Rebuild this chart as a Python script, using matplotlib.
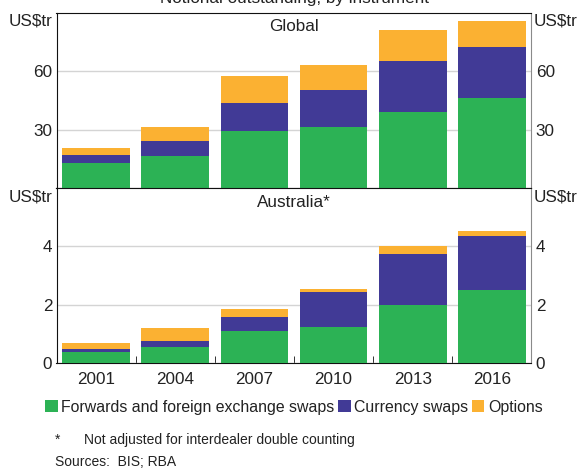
import numpy as np
import matplotlib
matplotlib.use('Agg')
import matplotlib.pyplot as plt
from matplotlib.patches import Patch

plt.rcParams['font.family'] = ['Liberation Sans', 'DejaVu Sans']
plt.rcParams['text.color'] = '#222222'

# data (US$ trillion)
years = ['2001', '2004', '2007', '2010', '2013', '2016']
series = ['Forwards and foreign exchange swaps', 'Currency swaps', 'Options']
global_fwd = [12.9, 16.5, 29.3, 31.5, 39.1, 46.3]
global_cs = [4.2, 7.7, 14.2, 18.9, 26.2, 26.0]
global_opt = [3.5, 7.3, 14.1, 12.7, 15.8, 13.6]
aus_fwd = [0.40, 0.56, 1.09, 1.25, 2.00, 2.51]
aus_cs = [0.10, 0.19, 0.48, 1.18, 1.74, 1.84]
aus_opt = [0.18, 0.46, 0.29, 0.13, 0.29, 0.19]

colors = ['#2cb255', '#413a96', '#fbb132']
W, H = 580, 469
fs = 12.3

fig = plt.figure(figsize=(W / 100, H / 100), dpi=100)
left, right = 56.5 / W, 531.5 / W
ax_top = fig.add_axes([left, 1 - 188 / H, right - left, 175 / H])
ax_bot = fig.add_axes([left, 1 - 363.3 / H, right - left, 175.3 / H])

x = np.arange(len(years))


def draw_panel(ax, fwd, cs, opt, ymax, ticks, name):
    bottom = np.zeros(len(x))
    for vals, c in zip([fwd, cs, opt], colors):
        ax.bar(x, vals, width=0.853, bottom=bottom, color=c, zorder=3)
        bottom = bottom + np.array(vals)
    ax.set_xlim(-0.5, len(x) - 0.5)
    ax.set_ylim(0, ymax)
    ax.set_yticks(ticks)
    ax.set_yticklabels([str(t) for t in ticks])
    ax.grid(axis='y', color='#d4d4d4', linewidth=1, zorder=0)
    ax.tick_params(axis='y', length=0, pad=3, labelsize=fs,
                   labelleft=True, labelright=True, colors='#222222')
    for s in ['left', 'top', 'bottom']:
        ax.spines[s].set_color('#111111')
    ax.spines['right'].set_color('#8a8a8a')
    ax.text(0.5, 1 - 14 / 175, name, transform=ax.transAxes,
            ha='center', va='center', fontsize=fs)
    ax.text(-3.5 / 475, 1 - 8.5 / 175, 'US$tr', transform=ax.transAxes,
            ha='right', va='center', fontsize=fs)
    ax.text(1 + 2.5 / 475, 1 - 8.5 / 175, 'US$tr', transform=ax.transAxes,
            ha='left', va='center', fontsize=fs)


draw_panel(ax_top, global_fwd, global_cs, global_opt, 90, [30, 60], 'Global')
draw_panel(ax_bot, aus_fwd, aus_cs, aus_opt, 6, [0, 2, 4], 'Australia*')

ax_top.tick_params(axis='x', which='both', length=0, labelbottom=False)

ax_bot.set_xticks(x)
ax_bot.set_xticklabels(years)
ax_bot.set_xticks(x[:-1] + 0.5, minor=True)
ax_bot.tick_params(axis='x', which='major', length=0, pad=6, labelsize=fs,
                   colors='#222222')
ax_bot.tick_params(axis='x', which='minor', length=5, direction='in',
                   color='#111111')

# overall title, partly off the top of the picture as in the original
mid = (left + right) / 2
fig.text(mid, 1 - 3 / H, 'Notional outstanding, by instrument',
         ha='center', va='baseline', fontsize=fs)

handles = [Patch(facecolor=c, edgecolor='none') for c in colors]
fig.legend(handles, series, loc='center', bbox_to_anchor=(mid, 1 - 407 / H),
           ncol=3, frameon=False, fontsize=11.4, handlelength=0.8,
           handleheight=0.8, handletextpad=0.25, columnspacing=0.2,
           borderaxespad=0, borderpad=0)

fig.text(55 / W, 1 - 440 / H, '*', ha='left', va='center', fontsize=10)
fig.text(84 / W, 1 - 440 / H, 'Not adjusted for interdealer double counting',
         ha='left', va='center', fontsize=10)
fig.text(55 / W, 1 - 462 / H, 'Sources:  BIS; RBA', ha='left', va='center',
         fontsize=10)

fig.savefig('out.png', dpi=100)
